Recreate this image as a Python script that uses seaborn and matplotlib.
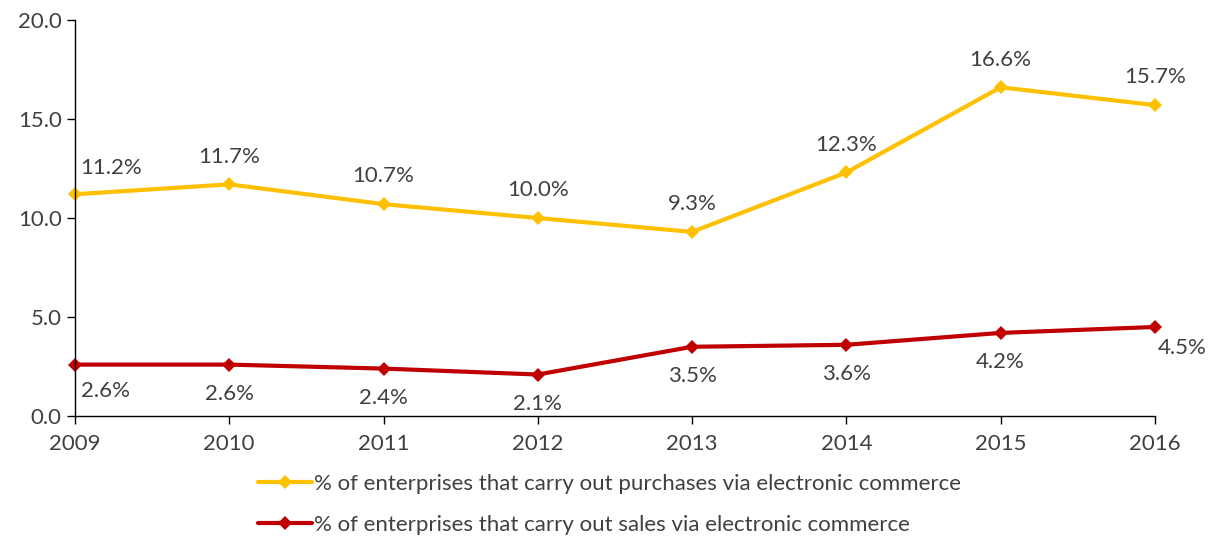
import matplotlib
matplotlib.use("Agg")
import matplotlib.pyplot as plt
import seaborn as sns
import pandas as pd

years = [2009, 2010, 2011, 2012, 2013, 2014, 2015, 2016]
purchases = [11.2, 11.7, 10.7, 10.0, 9.3, 12.3, 16.6, 15.7]
sales = [2.6, 2.6, 2.4, 2.1, 3.5, 3.6, 4.2, 4.5]
purchases_label = "% of enterprises that carry out purchases via electronic commerce"
sales_label = "% of enterprises that carry out sales via electronic commerce"
y_ticks = [0, 5, 10, 15, 20]

sns.set_style("ticks")
plt.rcParams["font.family"] = ["Lato", "DejaVu Sans"]

text_color = "#404040"
yellow = "#FFC000"
red = "#C00000"
fs = 16

df = pd.DataFrame({
    "year": years * 2,
    "value": purchases + sales,
    "series": [purchases_label] * len(years) + [sales_label] * len(years),
})

fig = plt.figure(figsize=(12.17, 5.39), dpi=100)
ax = fig.add_axes([0.0616, 0.228, 0.8874, 0.735])

sns.lineplot(data=df, x="year", y="value", hue="series",
             palette={purchases_label: yellow, sales_label: red},
             marker="D", markersize=7, linewidth=3, markeredgewidth=0,
             ax=ax, legend=True)
for line in ax.lines:
    line.set_clip_on(False)

ax.set_xlim(years[0], years[-1])
ax.set_ylim(y_ticks[0], y_ticks[-1])
ax.set_xticks(years)
ax.set_xticklabels([str(y) for y in years])
ax.set_yticks(y_ticks)
ax.set_yticklabels([f"{v:.1f}" for v in y_ticks])
ax.set_xlabel("")
ax.set_ylabel("")
ax.tick_params(axis="both", colors="black", labelcolor=text_color,
               labelsize=fs, length=6, width=1)
ax.tick_params(axis="x", pad=7)
for s in ["top", "right"]:
    ax.spines[s].set_visible(False)
for s in ["left", "bottom"]:
    ax.spines[s].set_color("black")
    ax.spines[s].set_linewidth(1)

# value labels: purchases above, sales below
for i, (x, v) in enumerate(zip(years, purchases)):
    if i == 0:
        ax.annotate(f"{v:.1f}%", (x, v), xytext=(4, 19), textcoords="offset points",
                    ha="left", va="center", fontsize=fs, color=text_color)
    else:
        ax.annotate(f"{v:.1f}%", (x, v), xytext=(0, 20), textcoords="offset points",
                    ha="center", va="center", fontsize=fs, color=text_color)
for i, (x, v) in enumerate(zip(years, sales)):
    if i == 0:
        ax.annotate(f"{v:.1f}%", (x, v), xytext=(4, -19), textcoords="offset points",
                    ha="left", va="center", fontsize=fs, color=text_color)
    elif i == len(years) - 1:
        ax.annotate(f"{v:.1f}%", (x, v), xytext=(2, -15), textcoords="offset points",
                    ha="left", va="center", fontsize=fs, color=text_color)
    else:
        ax.annotate(f"{v:.1f}%", (x, v), xytext=(0, -21), textcoords="offset points",
                    ha="center", va="center", fontsize=fs, color=text_color)

handles, labels = ax.get_legend_handles_labels()
ax.get_legend().remove()
leg = fig.legend(handles, labels, loc="upper left", bbox_to_anchor=(0.205, 0.137),
                 frameon=False, fontsize=fs, handlelength=2.4, handletextpad=0.1,
                 labelspacing=0.95, borderaxespad=0)
for t in leg.get_texts():
    t.set_color(text_color)

fig.savefig("out.png", dpi=100)
